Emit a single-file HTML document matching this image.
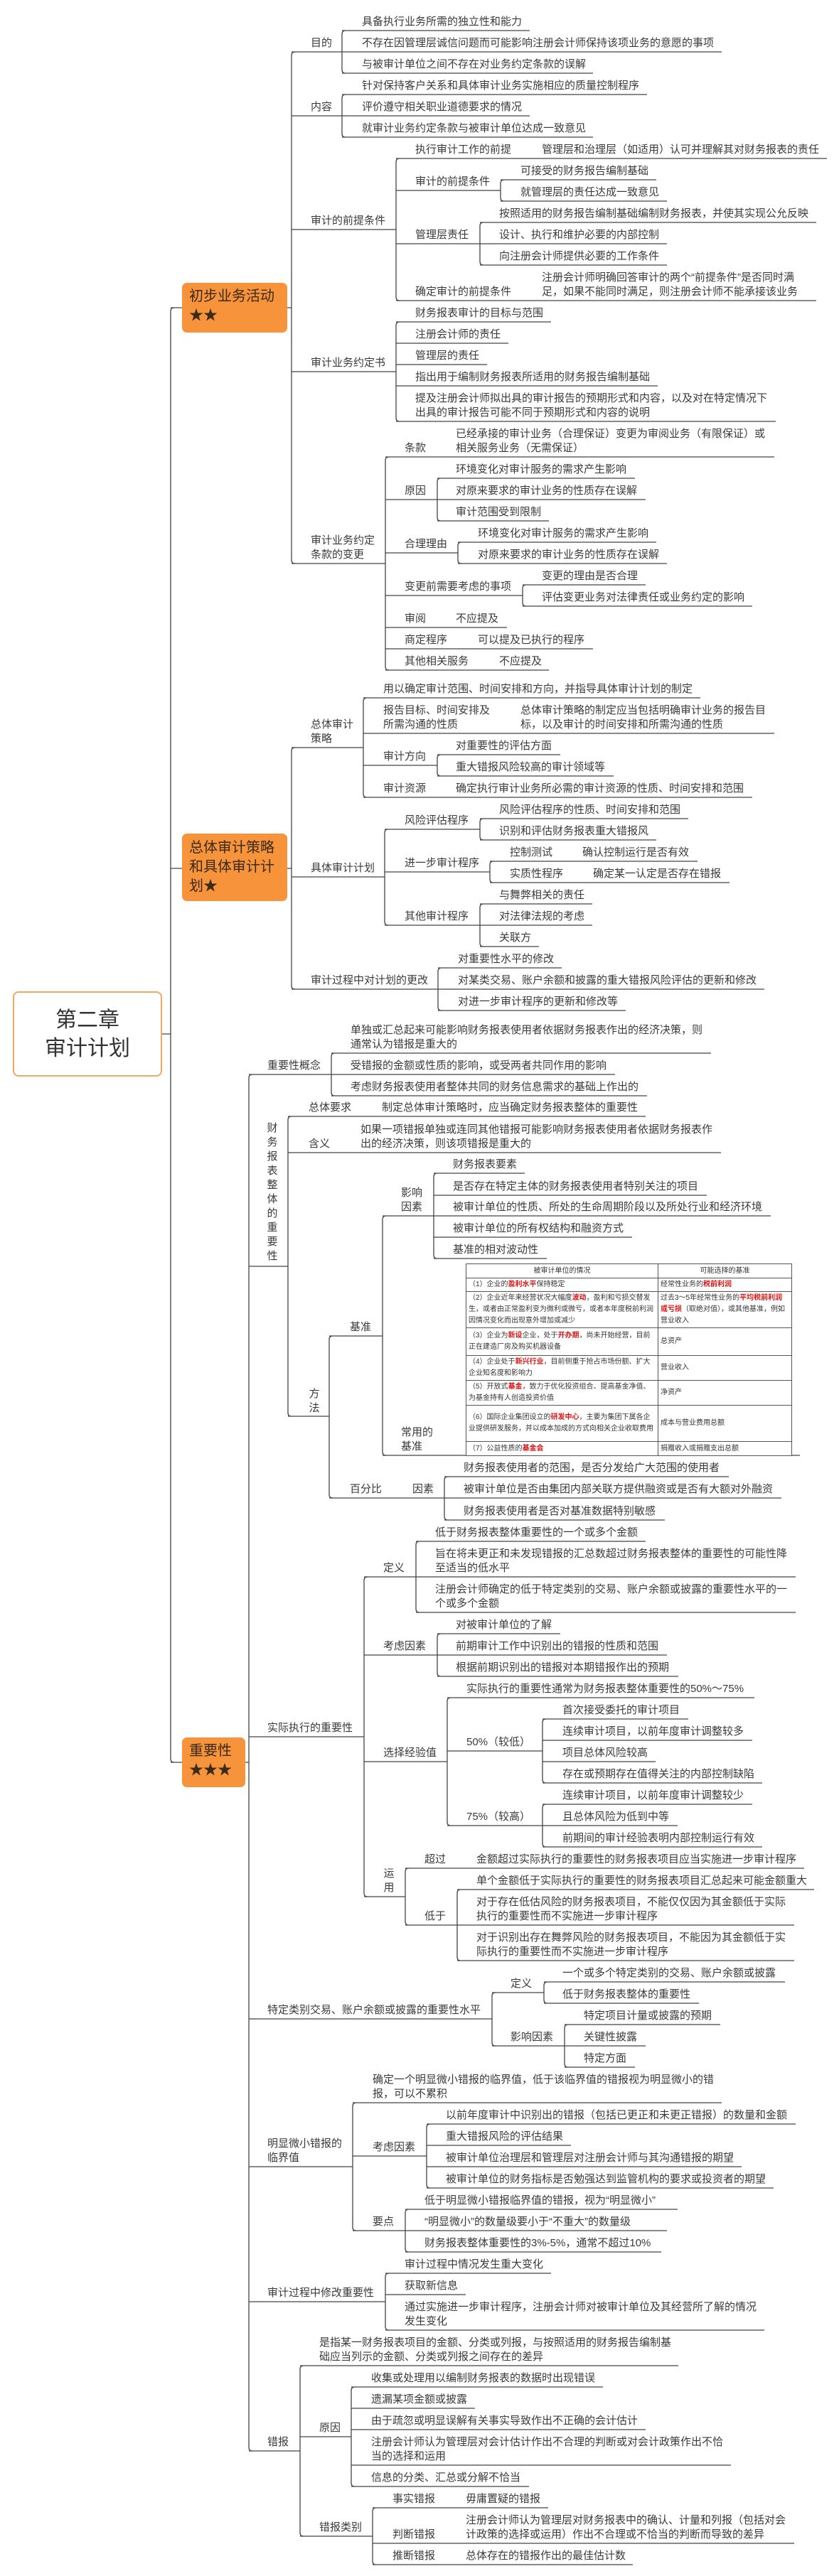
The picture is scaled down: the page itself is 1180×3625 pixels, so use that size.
<!DOCTYPE html>
<html><head><meta charset="utf-8">
<style>
*{margin:0;padding:0;box-sizing:border-box}
body{width:1180px;height:3625px;position:relative;background:#fff;font-family:"Liberation Sans","Noto Sans CJK SC",sans-serif;color:#3a3a3a;overflow:hidden}
.t{position:absolute;font-size:15px;line-height:20px;white-space:nowrap}
.v{position:absolute;font-size:15px;line-height:20px;width:16px;text-align:center;white-space:normal;word-break:break-all}
.box{position:absolute;background:#f7933b;border-radius:7px;color:#3a2a1a;font-size:20px;line-height:27px;padding:8px 10px}
svg{position:absolute;left:0;top:0}
svg path{fill:none;stroke:#444;stroke-width:1.3}
table{position:absolute;border-collapse:collapse;font-size:10px;line-height:16px;color:#333;background:#fff}
td{border:1px solid #555;padding:1px 3px;vertical-align:middle}
.r{color:#e01010;font-weight:bold}
</style></head><body>
<svg width="1180" height="3625">
<!-- root -->
<path d="M245 433Q240 433 240 438V2475Q240 2480 245 2480"/>
<path d="M240 433H256M240 1222H256M240 2480H256M228 1455H240"/>
<!-- branch1 -->
<path d="M404 433H410M415 73Q410 73 410 78V788Q410 793 415 793"/>
<path d="M410 73H481M486 43Q481 43 481 48V98Q481 103 486 103M481 43H745M481 73H1015M481 103H834"/>
<path d="M410 163H481M486 133Q481 133 481 138V188Q481 193 486 193M481 133H910M481 163H745M481 193H834"/>
<path d="M410 323H557M562 223Q557 223 557 228V418Q557 423 562 423M557 223H1163"/>
<path d="M557 268H704M709 253Q704 253 704 258V278Q704 283 709 283M704 253H923M704 283H938"/>
<path d="M557 343H675M680 313Q675 313 675 318V368Q675 373 680 373M675 313H1148M675 343H938M675 373H938M557 423H1148"/>
<path d="M410 523H557M562 453Q557 453 557 458V588Q557 593 562 593M557 453H775M557 483H715M557 513H685M557 543H925M557 593H1091"/>
<path d="M410 793H542M547 643Q542 643 542 648V938Q542 943 547 943M542 643H1089"/>
<path d="M542 703H615M620 673Q615 673 615 678V728Q615 733 620 733M615 673H893M615 703H908M615 733H772"/>
<path d="M542 778H644M649 763Q644 763 644 768V788Q644 793 649 793M644 763H923M644 793H938"/>
<path d="M542 838H735M740 823Q735 823 735 828V848Q735 853 740 853M735 823H908M735 853H1058"/>
<path d="M542 883H713M542 913H834M542 943H772"/>
<!-- branch2 -->
<path d="M404 1222H410M415 1052Q410 1052 410 1057V1387Q410 1392 415 1392"/>
<path d="M410 1052H511M516 982Q511 982 511 987V1117Q511 1122 516 1122M511 982H985M511 1032H1089M511 1077H615M620 1062Q615 1062 615 1067V1087Q615 1092 620 1092M615 1062H788M615 1092H863M511 1122H1058"/>
<path d="M410 1234H541M546 1167Q541 1167 541 1172V1297Q541 1302 546 1302M541 1167H675M680 1152Q675 1152 675 1157V1177Q675 1182 680 1182M675 1152H968M675 1182H923"/>
<path d="M541 1227H689M694 1212Q689 1212 689 1217V1237Q689 1242 694 1242M689 1212H981M689 1242H1026"/>
<path d="M541 1302H675M680 1272Q675 1272 675 1277V1327Q675 1332 680 1332M675 1272H833M675 1302H833M675 1332H758"/>
<path d="M410 1392H616M621 1362Q616 1362 616 1367V1417Q616 1422 621 1422M616 1362H790M616 1392H1075M616 1422H880"/>
<!-- branch3 -->
<path d="M345 2480H350M355 1512Q350 1512 350 1517V3444Q350 3449 355 3449"/>
<path d="M350 1512H466M471 1482Q466 1482 466 1487V1537Q466 1542 471 1542M466 1482H1000M466 1512H865M466 1542H910"/>
<path d="M350 1782H405M410 1571Q405 1571 405 1576V1988Q405 1993 410 1993M405 1571H908M405 1622H1014M405 1993H463"/>
<path d="M468 1880Q463 1880 463 1885V2103Q463 2108 468 2108M463 1880H538M543 1711Q538 1711 538 1716V2043Q538 2048 543 2048M538 1711H610"/>
<path d="M615 1651Q610 1651 610 1656V1766Q610 1771 615 1771M610 1651H738M610 1682H994M610 1711H1084M610 1741H889M610 1771H769M538 2048H1125"/>
<path d="M463 2108H625M630 2078Q625 2078 625 2083V2134Q625 2139 630 2139M625 2078H1025M625 2108H1099M625 2139H935"/>
<path d="M350 2444H512M517 2219Q512 2219 512 2224V2664Q512 2669 517 2669"/>
<path d="M512 2219H585M590 2169Q585 2169 585 2174V2264Q585 2269 590 2269M585 2169H908M585 2219H1119M585 2269H1119"/>
<path d="M512 2329H615M620 2299Q615 2299 615 2304V2354Q615 2359 620 2359M615 2299H788M615 2329H938M615 2359H954"/>
<path d="M512 2479H629M634 2389Q629 2389 629 2394V2564Q629 2569 634 2569M629 2389H1061M629 2464H763M768 2419Q763 2419 763 2424V2504Q763 2509 768 2509M763 2419H968M763 2449H1058M763 2479H922M763 2509H1072"/>
<path d="M629 2569H763M768 2539Q763 2539 763 2544V2594Q763 2599 768 2599M763 2539H1058M763 2569H953M763 2599H1072"/>
<path d="M512 2669H570M575 2629Q570 2629 570 2634V2704Q570 2709 575 2709M570 2629H1131M570 2709H643M648 2659Q643 2659 643 2664V2754Q643 2759 648 2759M643 2659H1145M643 2709H1117M643 2759H1117"/>
<path d="M350 2841H692M697 2804Q692 2804 692 2809V2874Q692 2879 697 2879M692 2804H765M770 2789Q765 2789 765 2794V2814Q765 2819 770 2819M765 2789H1104M765 2819H983"/>
<path d="M692 2879H794M799 2849Q794 2849 794 2854V2904Q794 2909 799 2909M794 2849H1013M794 2879H908M794 2909H893"/>
<path d="M350 3049H496M501 2959Q496 2959 496 2964V3134Q496 3139 501 3139M496 2959H1015M496 3034H600M605 2989Q600 2989 600 2994V3074Q600 3079 605 3079M600 2989H1119M600 3019H803M600 3049H1043M600 3079H1088"/>
<path d="M496 3139H570M575 3109Q570 3109 570 3114V3164Q570 3169 575 3169M570 3109H953M570 3139H938M570 3169H930"/>
<path d="M350 3239H542M547 3199Q542 3199 542 3204V3274Q542 3279 547 3279M542 3199H775M542 3229H655M542 3279H1075"/>
<path d="M350 3449H422M427 3329Q422 3329 422 3334V3564Q422 3569 427 3569M422 3329H954M422 3429H494M499 3359Q494 3359 494 3364V3494Q494 3499 499 3499M494 3359H848M494 3389H668M494 3419H908M494 3469H1028M494 3499H744"/>
<path d="M422 3569H524M529 3529Q524 3529 524 3534V3604Q524 3609 529 3609M524 3529H771M524 3579H1117M524 3609H890"/>
</svg>

<div style="position:absolute;left:18px;top:1395px;width:210px;height:120px;border:2px solid #f2a766;border-radius:8px;background:#fff;font-size:30px;line-height:40px;text-align:center;padding-top:19px;color:#333">第二章<br>审计计划</div>

<div class="box" style="left:256px;top:398px;width:148px;height:70px;padding-top:6px">初步业务活动<br>★★</div>
<div class="box" style="left:256px;top:1173px;width:148px;height:95px;padding-top:7px">总体审计策略<br>和具体审计计<br>划★</div>
<div class="box" style="left:256px;top:2445px;width:89px;height:70px;padding-top:6px">重要性<br>★★★</div>

<!-- branch1 text -->
<div class="t" style="left:437px;top:51px">目的</div>
<div class="t" style="left:509px;top:21px">具备执行业务所需的独立性和能力</div>
<div class="t" style="left:509px;top:51px">不存在因管理层诚信问题而可能影响注册会计师保持该项业务的意愿的事项</div>
<div class="t" style="left:509px;top:81px">与被审计单位之间不存在对业务约定条款的误解</div>
<div class="t" style="left:437px;top:141px">内容</div>
<div class="t" style="left:509px;top:111px">针对保持客户关系和具体审计业务实施相应的质量控制程序</div>
<div class="t" style="left:509px;top:141px">评价遵守相关职业道德要求的情况</div>
<div class="t" style="left:509px;top:171px">就审计业务约定条款与被审计单位达成一致意见</div>
<div class="t" style="left:437px;top:301px">审计的前提条件</div>
<div class="t" style="left:584px;top:201px">执行审计工作的前提</div>
<div class="t" style="left:762px;top:201px">管理层和治理层（如适用）认可并理解其对财务报表的责任</div>
<div class="t" style="left:584px;top:246px">审计的前提条件</div>
<div class="t" style="left:732px;top:231px">可接受的财务报告编制基础</div>
<div class="t" style="left:732px;top:261px">就管理层的责任达成一致意见</div>
<div class="t" style="left:584px;top:321px">管理层责任</div>
<div class="t" style="left:702px;top:291px">按照适用的财务报告编制基础编制财务报表，并使其实现公允反映</div>
<div class="t" style="left:702px;top:321px">设计、执行和维护必要的内部控制</div>
<div class="t" style="left:702px;top:351px">向注册会计师提供必要的工作条件</div>
<div class="t" style="left:584px;top:401px">确定审计的前提条件</div>
<div class="t" style="left:762px;top:381px">注册会计师明确回答审计的两个“前提条件”是否同时满<br>足，如果不能同时满足，则注册会计师不能承接该业务</div>
<div class="t" style="left:437px;top:501px">审计业务约定书</div>
<div class="t" style="left:584px;top:431px">财务报表审计的目标与范围</div>
<div class="t" style="left:584px;top:461px">注册会计师的责任</div>
<div class="t" style="left:584px;top:491px">管理层的责任</div>
<div class="t" style="left:584px;top:521px">指出用于编制财务报表所适用的财务报告编制基础</div>
<div class="t" style="left:584px;top:551px">提及注册会计师拟出具的审计报告的预期形式和内容，以及对在特定情况下<br>出具的审计报告可能不同于预期形式和内容的说明</div>
<div class="t" style="left:437px;top:751px">审计业务约定<br>条款的变更</div>
<div class="t" style="left:569px;top:621px">条款</div>
<div class="t" style="left:641px;top:601px">已经承接的审计业务（合理保证）变更为审阅业务（有限保证）或<br>相关服务业务（无需保证）</div>
<div class="t" style="left:569px;top:681px">原因</div>
<div class="t" style="left:641px;top:651px">环境变化对审计服务的需求产生影响</div>
<div class="t" style="left:641px;top:681px">对原来要求的审计业务的性质存在误解</div>
<div class="t" style="left:641px;top:711px">审计范围受到限制</div>
<div class="t" style="left:569px;top:756px">合理理由</div>
<div class="t" style="left:672px;top:741px">环境变化对审计服务的需求产生影响</div>
<div class="t" style="left:672px;top:771px">对原来要求的审计业务的性质存在误解</div>
<div class="t" style="left:569px;top:816px">变更前需要考虑的事项</div>
<div class="t" style="left:762px;top:801px">变更的理由是否合理</div>
<div class="t" style="left:762px;top:831px">评估变更业务对法律责任或业务约定的影响</div>
<div class="t" style="left:569px;top:861px">审阅</div>
<div class="t" style="left:641px;top:861px">不应提及</div>
<div class="t" style="left:569px;top:891px">商定程序</div>
<div class="t" style="left:672px;top:891px">可以提及已执行的程序</div>
<div class="t" style="left:569px;top:921px">其他相关服务</div>
<div class="t" style="left:702px;top:921px">不应提及</div>

<!-- branch2 text -->
<div class="t" style="left:437px;top:1010px">总体审计<br>策略</div>
<div class="t" style="left:539px;top:960px">用以确定审计范围、时间安排和方向，并指导具体审计计划的制定</div>
<div class="t" style="left:539px;top:990px">报告目标、时间安排及<br>所需沟通的性质</div>
<div class="t" style="left:732px;top:990px">总体审计策略的制定应当包括明确审计业务的报告目<br>标，以及审计的时间安排和所需沟通的性质</div>
<div class="t" style="left:539px;top:1055px">审计方向</div>
<div class="t" style="left:641px;top:1040px">对重要性的评估方面</div>
<div class="t" style="left:641px;top:1070px">重大错报风险较高的审计领域等</div>
<div class="t" style="left:539px;top:1100px">审计资源</div>
<div class="t" style="left:641px;top:1100px">确定执行审计业务所必需的审计资源的性质、时间安排和范围</div>
<div class="t" style="left:437px;top:1212px">具体审计计划</div>
<div class="t" style="left:569px;top:1145px">风险评估程序</div>
<div class="t" style="left:702px;top:1130px">风险评估程序的性质、时间安排和范围</div>
<div class="t" style="left:702px;top:1160px">识别和评估财务报表重大错报风</div>
<div class="t" style="left:569px;top:1205px">进一步审计程序</div>
<div class="t" style="left:717px;top:1190px">控制测试</div>
<div class="t" style="left:819px;top:1190px">确认控制运行是否有效</div>
<div class="t" style="left:717px;top:1220px">实质性程序</div>
<div class="t" style="left:834px;top:1220px">确定某一认定是否存在错报</div>
<div class="t" style="left:569px;top:1280px">其他审计程序</div>
<div class="t" style="left:702px;top:1250px">与舞弊相关的责任</div>
<div class="t" style="left:702px;top:1280px">对法律法规的考虑</div>
<div class="t" style="left:702px;top:1310px">关联方</div>
<div class="t" style="left:437px;top:1370px">审计过程中对计划的更改</div>
<div class="t" style="left:644px;top:1340px">对重要性水平的修改</div>
<div class="t" style="left:644px;top:1370px">对某类交易、账户余额和披露的重大错报风险评估的更新和修改</div>
<div class="t" style="left:644px;top:1400px">对进一步审计程序的更新和修改等</div>

<!-- branch3 text -->
<div class="t" style="left:376px;top:1490px">重要性概念</div>
<div class="t" style="left:493px;top:1440px">单独或汇总起来可能影响财务报表使用者依据财务报表作出的经济决策，则<br>通常认为错报是重大的</div>
<div class="t" style="left:493px;top:1490px">受错报的金额或性质的影响，或受两者共同作用的影响</div>
<div class="t" style="left:493px;top:1520px">考虑财务报表使用者整体共同的财务信息需求的基础上作出的</div>
<div class="v" style="left:375px;top:1578px">财务报表整体的重要性</div>
<div class="t" style="left:434px;top:1549px">总体要求</div>
<div class="t" style="left:537px;top:1549px">制定总体审计策略时，应当确定财务报表整体的重要性</div>
<div class="t" style="left:434px;top:1600px">含义</div>
<div class="t" style="left:507px;top:1580px">如果一项错报单独或连同其他错报可能影响财务报表使用者依据财务报表作<br>出的经济决策，则该项错报是重大的</div>
<div class="v" style="left:434px;top:1952px">方法</div>
<div class="t" style="left:492px;top:1858px">基准</div>
<div class="t" style="left:564px;top:1669px">影响<br>因素</div>
<div class="t" style="left:637px;top:1629px">财务报表要素</div>
<div class="t" style="left:637px;top:1660px">是否存在特定主体的财务报表使用者特别关注的项目</div>
<div class="t" style="left:637px;top:1689px">被审计单位的性质、所处的生命周期阶段以及所处行业和经济环境</div>
<div class="t" style="left:637px;top:1719px">被审计单位的所有权结构和融资方式</div>
<div class="t" style="left:637px;top:1749px">基准的相对波动性</div>
<div class="t" style="left:564px;top:2006px">常用的<br>基准</div>
<table style="left:655px;top:1778px;width:459px;height:267px">
<tr style="height:20px"><td style="width:270px;text-align:center">被审计单位的情况</td><td style="text-align:center">可能选择的基准</td></tr>
<tr style="height:19px"><td>（1）企业的<span class="r">盈利水平</span>保持稳定</td><td>经常性业务的<span class="r">税前利润</span></td></tr>
<tr style="height:51px"><td>（2）企业近年来经营状况大幅度<span class="r">波动</span>，盈利和亏损交替发生，或者由正常盈利变为微利或微亏，或者本年度税前利润因情况变化而出现意外增加或减少</td><td>过去3～5年经常性业务的<span class="r">平均税前利润或亏损</span>（取绝对值），或其他基准，例如营业收入</td></tr>
<tr style="height:39px"><td>（3）企业为<span class="r">新设</span>企业，处于<span class="r">开办期</span>，尚未开始经营，目前正在建造厂房及购买机器设备</td><td>总资产</td></tr>
<tr style="height:33px"><td>（4）企业处于<span class="r">新兴行业</span>，目前侧重于抢占市场份额、扩大企业知名度和影响力</td><td>营业收入</td></tr>
<tr style="height:34px"><td>（5）开放式<span class="r">基金</span>，致力于优化投资组合、提高基金净值、为基金持有人创造投资价值</td><td>净资产</td></tr>
<tr style="height:51px"><td>（6）国际企业集团设立的<span class="r">研发中心</span>，主要为集团下属各企业提供研发服务，并以成本加成的方式向相关企业收取费用</td><td>成本与营业费用总额</td></tr>
<tr style="height:20px"><td>（7）公益性质的<span class="r">基金会</span></td><td>捐赠收入或捐赠支出总额</td></tr>
</table>
<div class="t" style="left:492px;top:2086px">百分比</div>
<div class="t" style="left:580px;top:2086px">因素</div>
<div class="t" style="left:652px;top:2056px">财务报表使用者的范围，是否分发给广大范围的使用者</div>
<div class="t" style="left:652px;top:2086px">被审计单位是否由集团内部关联方提供融资或是否有大额对外融资</div>
<div class="t" style="left:652px;top:2117px">财务报表使用者是否对基准数据特别敏感</div>
<div class="t" style="left:376px;top:2422px">实际执行的重要性</div>
<div class="t" style="left:539px;top:2197px">定义</div>
<div class="t" style="left:612px;top:2147px">低于财务报表整体重要性的一个或多个金额</div>
<div class="t" style="left:612px;top:2177px">旨在将未更正和未发现错报的汇总数超过财务报表整体的重要性的可能性降<br>至适当的低水平</div>
<div class="t" style="left:612px;top:2227px">注册会计师确定的低于特定类别的交易、账户余额或披露的重要性水平的一<br>个或多个金额</div>
<div class="t" style="left:539px;top:2307px">考虑因素</div>
<div class="t" style="left:641px;top:2277px">对被审计单位的了解</div>
<div class="t" style="left:641px;top:2307px">前期审计工作中识别出的错报的性质和范围</div>
<div class="t" style="left:641px;top:2337px">根据前期识别出的错报对本期错报作出的预期</div>
<div class="t" style="left:539px;top:2457px">选择经验值</div>
<div class="t" style="left:656px;top:2367px">实际执行的重要性通常为财务报表整体重要性的50%～75%</div>
<div class="t" style="left:656px;top:2442px">50%（较低）</div>
<div class="t" style="left:791px;top:2397px">首次接受委托的审计项目</div>
<div class="t" style="left:791px;top:2427px">连续审计项目，以前年度审计调整较多</div>
<div class="t" style="left:791px;top:2457px">项目总体风险较高</div>
<div class="t" style="left:791px;top:2487px">存在或预期存在值得关注的内部控制缺陷</div>
<div class="t" style="left:656px;top:2547px">75%（较高）</div>
<div class="t" style="left:791px;top:2517px">连续审计项目，以前年度审计调整较少</div>
<div class="t" style="left:791px;top:2547px">且总体风险为低到中等</div>
<div class="t" style="left:791px;top:2577px">前期间的审计经验表明内部控制运行有效</div>
<div class="v" style="left:539px;top:2627px">运用</div>
<div class="t" style="left:597px;top:2607px">超过</div>
<div class="t" style="left:670px;top:2607px">金额超过实际执行的重要性的财务报表项目应当实施进一步审计程序</div>
<div class="t" style="left:597px;top:2687px">低于</div>
<div class="t" style="left:670px;top:2637px">单个金额低于实际执行的重要性的财务报表项目汇总起来可能金额重大</div>
<div class="t" style="left:670px;top:2667px">对于存在低估风险的财务报表项目，不能仅仅因为其金额低于实际<br>执行的重要性而不实施进一步审计程序</div>
<div class="t" style="left:670px;top:2717px">对于识别出存在舞弊风险的财务报表项目，不能因为其金额低于实<br>际执行的重要性而不实施进一步审计程序</div>
<div class="t" style="left:376px;top:2819px">特定类别交易、账户余额或披露的重要性水平</div>
<div class="t" style="left:718px;top:2782px">定义</div>
<div class="t" style="left:791px;top:2767px">一个或多个特定类别的交易、账户余额或披露</div>
<div class="t" style="left:791px;top:2797px">低于财务报表整体的重要性</div>
<div class="t" style="left:718px;top:2857px">影响因素</div>
<div class="t" style="left:821px;top:2827px">特定项目计量或披露的预期</div>
<div class="t" style="left:821px;top:2857px">关键性披露</div>
<div class="t" style="left:821px;top:2887px">特定方面</div>
<div class="t" style="left:376px;top:3007px">明显微小错报的<br>临界值</div>
<div class="t" style="left:524px;top:2917px">确定一个明显微小错报的临界值，低于该临界值的错报视为明显微小的错<br>报，可以不累积</div>
<div class="t" style="left:524px;top:3012px">考虑因素</div>
<div class="t" style="left:627px;top:2967px">以前年度审计中识别出的错报（包括已更正和未更正错报）的数量和金额</div>
<div class="t" style="left:627px;top:2997px">重大错报风险的评估结果</div>
<div class="t" style="left:627px;top:3027px">被审计单位治理层和管理层对注册会计师与其沟通错报的期望</div>
<div class="t" style="left:627px;top:3057px">被审计单位的财务指标是否勉强达到监管机构的要求或投资者的期望</div>
<div class="t" style="left:524px;top:3117px">要点</div>
<div class="t" style="left:597px;top:3087px">低于明显微小错报临界值的错报，视为“明显微小”</div>
<div class="t" style="left:597px;top:3117px">“明显微小”的数量级要小于“不重大”的数量级</div>
<div class="t" style="left:597px;top:3147px">财务报表整体重要性的3%-5%，通常不超过10%</div>
<div class="t" style="left:376px;top:3217px">审计过程中修改重要性</div>
<div class="t" style="left:569px;top:3177px">审计过程中情况发生重大变化</div>
<div class="t" style="left:569px;top:3207px">获取新信息</div>
<div class="t" style="left:569px;top:3237px">通过实施进一步审计程序，注册会计师对被审计单位及其经营所了解的情况<br>发生变化</div>
<div class="t" style="left:376px;top:3427px">错报</div>
<div class="t" style="left:449px;top:3287px">是指某一财务报表项目的金额、分类或列报，与按照适用的财务报告编制基<br>础应当列示的金额、分类或列报之间存在的差异</div>
<div class="t" style="left:449px;top:3407px">原因</div>
<div class="t" style="left:522px;top:3337px">收集或处理用以编制财务报表的数据时出现错误</div>
<div class="t" style="left:522px;top:3367px">遗漏某项金额或披露</div>
<div class="t" style="left:522px;top:3397px">由于疏忽或明显误解有关事实导致作出不正确的会计估计</div>
<div class="t" style="left:522px;top:3427px">注册会计师认为管理层对会计估计作出不合理的判断或对会计政策作出不恰<br>当的选择和运用</div>
<div class="t" style="left:522px;top:3477px">信息的分类、汇总或分解不恰当</div>
<div class="t" style="left:449px;top:3547px">错报类别</div>
<div class="t" style="left:552px;top:3507px">事实错报</div>
<div class="t" style="left:655px;top:3507px">毋庸置疑的错报</div>
<div class="t" style="left:552px;top:3557px">判断错报</div>
<div class="t" style="left:655px;top:3537px">注册会计师认为管理层对财务报表中的确认、计量和列报（包括对会<br>计政策的选择或运用）作出不合理或不恰当的判断而导致的差异</div>
<div class="t" style="left:552px;top:3587px">推断错报</div>
<div class="t" style="left:655px;top:3587px">总体存在的错报作出的最佳估计数</div>
</body></html>
